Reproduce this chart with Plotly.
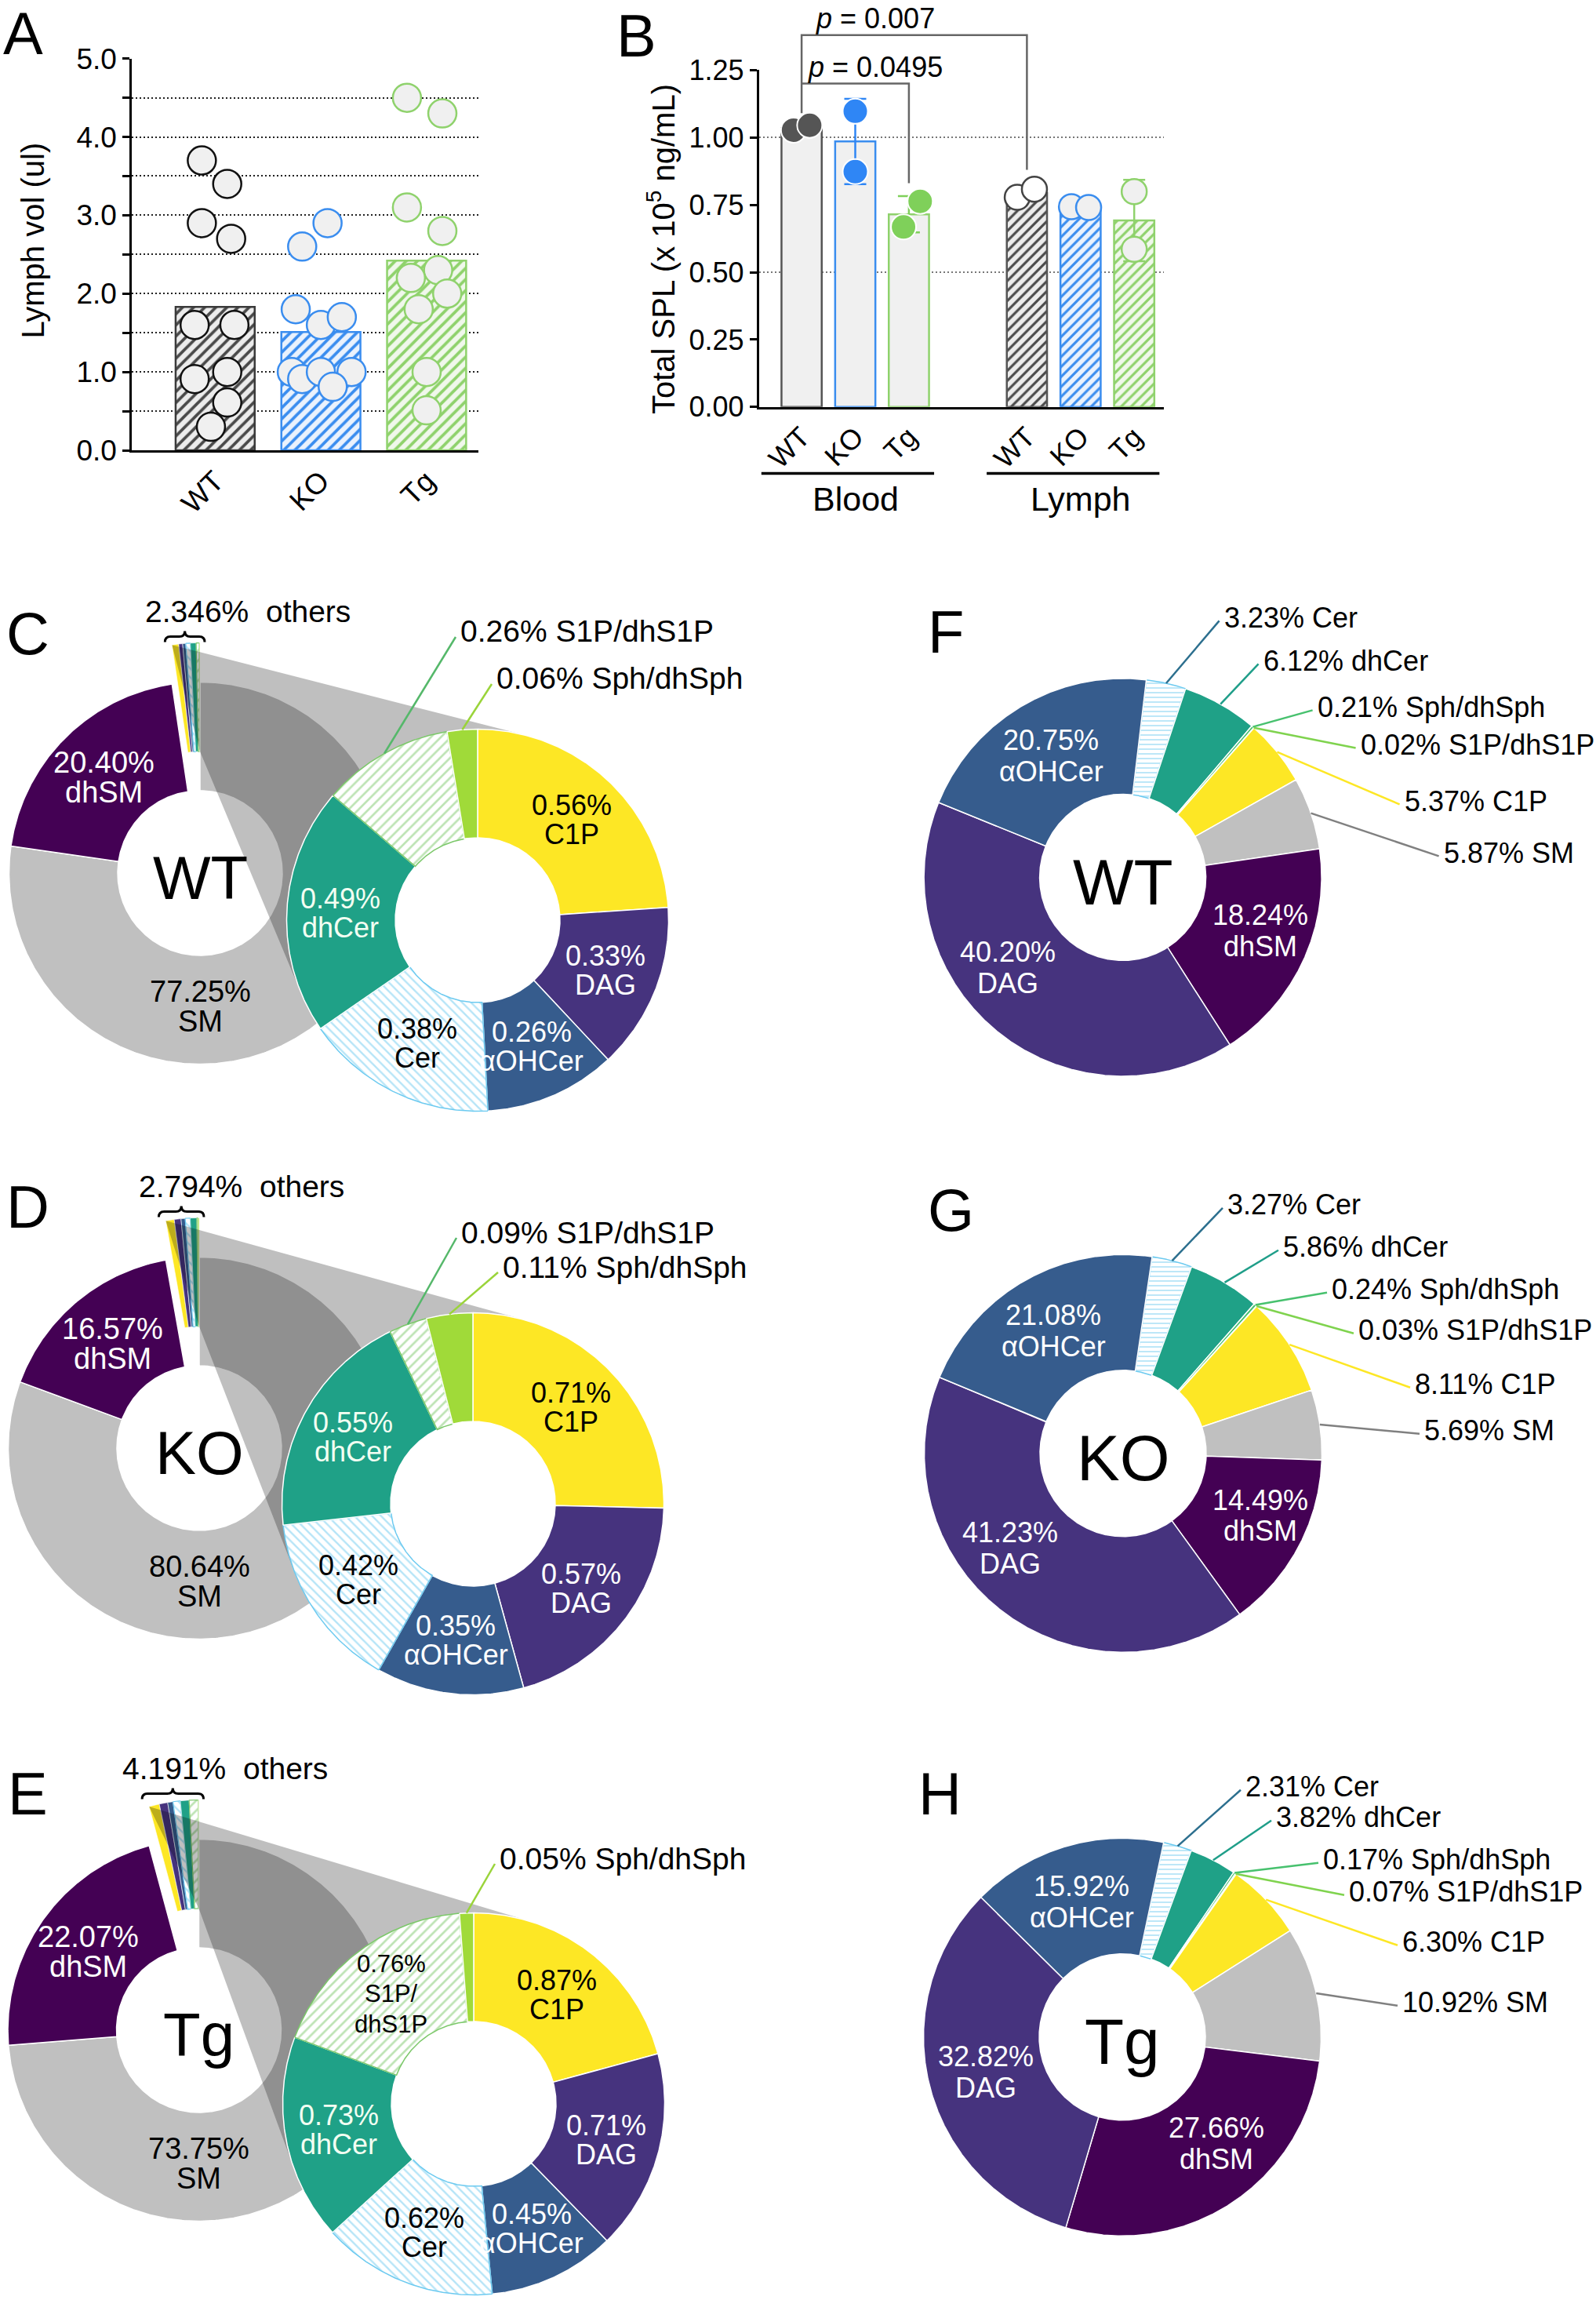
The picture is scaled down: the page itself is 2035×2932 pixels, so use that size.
import numpy as np
import plotly.graph_objects as go

FONT = "Liberation Sans, Arial, Helvetica, sans-serif"
W, H = 2035, 2932

# ======================= DATA =======================
# Panel A : lymph volume (ul)
a_groups = ["WT", "KO", "Tg"]
a_bar_means = [1.83, 1.51, 2.42]
a_wt = [3.70, 3.40, 2.90, 2.70, 1.60, 1.60, 0.91, 1.00, 0.61, 0.30]
a_ko = [2.60, 2.90, 1.80, 1.60, 1.70, 1.00, 0.91, 1.00, 1.00, 0.81]
a_tg = [4.50, 4.30, 3.10, 2.80, 2.30, 2.20, 2.00, 1.80, 1.00, 0.51]
a_tick_vals = [0, 1, 2, 3, 4, 5]
a_tick_text = ["0.0", "1.0", "2.0", "3.0", "4.0", "5.0"]

# Panel B : total SPL (x 10^5 ng/mL)
b_groups = ["WT", "KO", "Tg", "WT", "KO", "Tg"]
b_tissues = ["Blood", "Lymph"]
b_means = [1.035, 0.985, 0.715, 0.793, 0.742, 0.692]
b_sd = [0.013, 0.158, 0.067, 0.021, 0.003, 0.151]
b_rep1 = [1.027, 1.097, 0.763, 0.778, 0.743, 0.799]
b_rep2 = [1.045, 0.873, 0.668, 0.808, 0.740, 0.585]
b_pvalues = ["0.007", "0.0495"]
b_tick_vals = [0, 0.25, 0.5, 0.75, 1.0, 1.25]
b_tick_text = ["0.00", "0.25", "0.50", "0.75", "1.00", "1.25"]

# Panels C-E : blood sphingolipid composition (%)
blood_major_names = ["SM", "dhSM"]
blood_minor_names = ["C1P", "DAG", "αOHCer", "Cer", "dhCer", "S1P/dhS1P", "Sph/dhSph"]
blood_wt_major = [77.25, 20.40]
blood_ko_major = [80.64, 16.57]
blood_tg_major = [73.75, 22.07]
blood_wt_minor = [0.56, 0.33, 0.26, 0.38, 0.49, 0.26, 0.06]
blood_ko_minor = [0.71, 0.57, 0.35, 0.42, 0.55, 0.09, 0.11]
blood_tg_minor = [0.87, 0.71, 0.45, 0.62, 0.73, 0.76, 0.05]
blood_others = ["2.346", "2.794", "4.191"]

# Panels F-H : lymph sphingolipid composition (%)
lymph_names = ["Cer", "dhCer", "Sph/dhSph", "S1P/dhS1P", "C1P", "SM", "dhSM", "DAG", "αOHCer"]
lymph_wt = [3.23, 6.12, 0.21, 0.02, 5.37, 5.87, 18.24, 40.20, 20.75]
lymph_ko = [3.27, 5.86, 0.24, 0.03, 8.11, 5.69, 14.49, 41.23, 21.08]
lymph_tg = [2.31, 3.82, 0.17, 0.07, 6.30, 10.92, 27.66, 32.82, 15.92]
genotypes = ["WT", "KO", "Tg"]

# ======================= STYLE / LAYOUT =======================
GLINE = {"WT": "#3a3a3a", "KO": "#3a8def", "Tg": "#8fd26c"}
GHATCH = {"WT": "#4a4a4a", "KO": "#3a8def", "Tg": "#8fd26c"}
GBG = {"WT": "#ececec", "KO": "#eaf2fd", "Tg": "#f0f8eb"}
GDOT = {"WT": "#555555", "KO": "#2f86f5", "Tg": "#7fd05a"}
A_JIT = {
    "WT": [-0.126, 0.114, -0.126, 0.151, -0.194, 0.182, -0.194, 0.114, 0.114, -0.04],
    "KO": [-0.177, 0.063, -0.238, 0.0, 0.198, -0.275, -0.177, 0.0, 0.29, 0.112],
    "Tg": [-0.186, 0.149, -0.186, 0.149, 0.109, -0.149, 0.195, -0.075, 0.0, 0.0],
}
B_POS = [0, 1, 2, 4.2, 5.2, 6.2]
B_JIT1 = [-0.15, 0.0, 0.21, -0.18, -0.17, 0.0]
B_JIT2 = [0.15, 0.0, -0.10, 0.14, 0.15, 0.0]
BX_RANGE = [-0.797, 6.75]
BY_RANGE = [0, 1.25]
B_XDOM = [967.6 / W, 1483.8 / W]
B_YDOM = [1 - 518.8 / H, 1 - 89.3 / H]

LIGHTBLUE = "#6ccaf0"
BLOOD_STYLE = {
    "SM": dict(color="#c0c0c0"),
    "dhSM": dict(color="#440154"),
    "C1P": dict(color="#fde725"),
    "DAG": dict(color="#46337e"),
    "αOHCer": dict(color="#365c8d"),
    "Cer": dict(color="#ffffff", pattern="\\", fg=LIGHTBLUE, psize=8),
    "dhCer": dict(color="#1fa187"),
    "S1P/dhS1P": dict(color="#ffffff", pattern="/", fg="#7cc86a", psize=9),
    "Sph/dhSph": dict(color="#a0da39"),
}
LYMPH_STYLE = {
    "Cer": dict(color="#ffffff", pattern="-", fg=LIGHTBLUE, psize=6),
    "dhCer": dict(color="#1fa187"),
    "Sph/dhSph": dict(color="#47c16e"),
    "S1P/dhS1P": dict(color="#7fd34e"),
    "C1P": dict(color="#fde725"),
    "SM": dict(color="#c0c0c0"),
    "dhSM": dict(color="#440154"),
    "DAG": dict(color="#46337e"),
    "αOHCer": dict(color="#365c8d"),
}
BLOOD_TXT = {"C1P": "black", "DAG": "white", "αOHCer": "white", "Cer": "black",
             "dhCer": "#f2fff2", "S1P/dhS1P": "black", "Sph/dhSph": "black"}
BLOOD_LEADER = {"S1P/dhS1P": "#55b86a", "Sph/dhSph": "#9ad43a"}
LYMPH_LEADER = {"Cer": "#2c6f8e", "dhCer": "#1f9e89", "Sph/dhSph": "#47c16e",
                "S1P/dhS1P": "#7fd34e", "C1P": "#fde725", "SM": "#808080"}

ROUT, RIN, EXPLODE = 243.5, 105.0, 50.0
BLOOD_LAYOUT = [
    dict(letter="C", left=(255, 1113), right=(609, 1173), letter_xy=(35, 807),
         outside={"S1P/dhS1P": (-28, -361), "Sph/dhSph": (18, -301)}),
    dict(letter="D", left=(254, 1846), right=(603, 1917), letter_xy=(35, 1539),
         outside={"S1P/dhS1P": (-21, -339), "Sph/dhSph": (32, -295)}),
    dict(letter="E", left=(253.5, 2588), right=(604, 2682), letter_xy=(35, 2286),
         outside={"Sph/dhSph": (27, -306)}),
]
RL_OUT, RL_IN = 253.5, 106.0
LYMPH_LAYOUT = [
    dict(letter="F", center=(1431.6, 1118.4), rot=6.8, letter_xy=(1206, 805),
         ends={"Cer": (123, -327), "dhCer": (173, -272), "Sph/dhSph": (242, -213),
               "S1P/dhS1P": (297, -165), "C1P": (353, -93), "SM": (403, -27)},
         inside={"DAG": (231.8, 186), "dhSM": (111.2, 188)}),
    dict(letter="G", center=(1432, 1852.8), rot=8.4, letter_xy=(1212, 1542),
         ends={"Cer": (127, -313), "dhCer": (198, -259), "Sph/dhSph": (260, -205),
               "S1P/dhS1P": (294, -153), "C1P": (366, -84), "SM": (378, -25)},
         inside={"DAG": (230, 187.5), "dhSM": (114.3, 192)}),
    dict(letter="H", center=(1431, 2596.8), rot=12.0, letter_xy=(1198, 2286),
         ends={"Cer": (151, -315), "dhCer": (190, -276), "Sph/dhSph": (250, -222),
               "S1P/dhS1P": (283, -181), "C1P": (351, -117), "SM": (351, -40)},
         inside={"dhSM": (138.5, 181)}),
]

fig = go.Figure()
ANN, SHAPES = [], []


def paper(px, py):
    return px / W, 1 - py / H


def note(px, py, text, size, color="black", angle=0, xanchor="center"):
    x, y = paper(px, py)
    ANN.append(dict(x=x, y=y, xref="paper", yref="paper", text=text, showarrow=False,
                    textangle=angle, xanchor=xanchor, yanchor="middle",
                    font=dict(family=FONT, size=size, color=color)))


def txt(x, y, lines, size, color="black", spacing=1.04, xanchor="center"):
    if isinstance(lines, str):
        lines = [lines]
    n = len(lines)
    for i, s in enumerate(lines):
        yy = y + (i - (n - 1) / 2) * spacing * size
        ANN.append(dict(x=x, y=yy, xref="x3", yref="y3", text=s, showarrow=False,
                        xanchor=xanchor, yanchor="middle",
                        font=dict(family=FONT, size=size, color=color)))


# ======================= PANEL A =======================
for i, g in enumerate(a_groups):
    fig.add_trace(go.Bar(
        x=[i], y=[a_bar_means[i]], width=0.748, xaxis="x", yaxis="y",
        marker=dict(color=GBG[g], line=dict(color=GLINE[g], width=2.5),
                    pattern=dict(shape="/", fgcolor=GHATCH[g], bgcolor=GBG[g],
                                 size=10, solidity=0.38, fillmode="replace")),
        hoverinfo="skip"))
for i, (g, vals) in enumerate(zip(a_groups, [a_wt, a_ko, a_tg])):
    fig.add_trace(go.Scatter(
        x=[i + j for j in A_JIT[g]], y=vals, mode="markers", xaxis="x", yaxis="y",
        marker=dict(size=36, color="#f0f0f0",
                    line=dict(color="#111111" if g == "WT" else GLINE[g], width=2.5)),
        cliponaxis=False, hoverinfo="skip"))

# ======================= PANEL B =======================
for k in range(6):
    g = b_groups[k]
    lymph = k >= 3
    mk = dict(color="#f0f0f0", line=dict(color=GLINE[g] if g != "WT" else "#555555", width=2.5))
    if lymph:
        mk["color"] = GBG[g]
        mk["pattern"] = dict(shape="/", fgcolor=GHATCH[g], bgcolor=GBG[g], size=9,
                             solidity=0.35, fillmode="replace")
    fig.add_trace(go.Bar(
        x=[B_POS[k]], y=[b_means[k]], width=0.75, xaxis="x2", yaxis="y2", marker=mk,
        error_y=dict(type="data", array=[b_sd[k]], color=GDOT[g] if not lymph else GLINE[g],
                     thickness=2.5, width=14, visible=True),
        hoverinfo="skip"))
for k in range(6):
    g = b_groups[k]
    lymph = k >= 3
    if lymph:
        mk = dict(size=32, color="#ffffff" if g == "WT" else "#f0f0f0",
                  line=dict(color="#444444" if g == "WT" else GLINE[g], width=2.5))
    else:
        mk = dict(size=32, color=GDOT[g], line=dict(color="white", width=2))
    fig.add_trace(go.Scatter(
        x=[B_POS[k] + B_JIT1[k], B_POS[k] + B_JIT2[k]], y=[b_rep1[k], b_rep2[k]],
        mode="markers", xaxis="x2", yaxis="y2", marker=mk, cliponaxis=False,
        hoverinfo="skip"))


def bxd(v):
    return (v - BX_RANGE[0]) / (BX_RANGE[1] - BX_RANGE[0])


def byd(v):
    return (v - BY_RANGE[0]) / (BY_RANGE[1] - BY_RANGE[0])


def bpaper(x, y):
    return (B_XDOM[0] + bxd(x) * (B_XDOM[1] - B_XDOM[0]),
            B_YDOM[0] + byd(y) * (B_YDOM[1] - B_YDOM[0]))


# significance brackets (WT blood vs WT lymph ; WT blood vs Tg blood)
BRACKETS = [(B_POS[0], B_POS[3], 1.38, 1.09, 0.88), (B_POS[0], B_POS[2], 1.20, 1.20, 0.83)]
for (xl, xr, top, lb, rb), pv in zip(BRACKETS, b_pvalues):
    SHAPES.append(dict(type="path", xref="x2 domain", yref="y2 domain",
                       path=f"M{bxd(xl)},{byd(lb)} L{bxd(xl)},{byd(top)} L{bxd(xr)},{byd(top)} L{bxd(xr)},{byd(rb)}",
                       line=dict(color="#666666", width=2.5)))
    tx, ty = bpaper(1.37, top + 0.062)
    ANN.append(dict(x=tx, y=ty, xref="paper", yref="paper", text=f"<i>p</i> = {pv}",
                    showarrow=False, xanchor="center", yanchor="middle",
                    font=dict(family=FONT, size=36, color="black")))
# tissue group underlines and labels
for t, (i0, i1) in zip(b_tissues, [(0, 2), (3, 5)]):
    yl = 1 - 603.6 / H
    SHAPES.append(dict(type="line", xref="x2 domain", yref="paper",
                       x0=bxd(B_POS[i0] - 0.75), x1=bxd(B_POS[i1] + 0.47), y0=yl, y1=yl,
                       line=dict(color="black", width=3.5)))
    tx, _ = bpaper((B_POS[i0] + B_POS[i1]) / 2, 0)
    ANN.append(dict(x=tx, y=1 - 636 / H, xref="paper", yref="paper",
                    text=t, showarrow=False, xanchor="center", yanchor="middle",
                    font=dict(family=FONT, size=43, color="black")))

# ======================= PIE HELPERS =======================
def sector(cx, cy, r0, r1, a0, a1, step=0.5):
    n = max(3, int(np.ceil(abs(a1 - a0) / step)) + 1)
    t = np.radians(np.linspace(a0, a1, n))
    xo, yo = cx + r1 * np.sin(t), cy - r1 * np.cos(t)
    xi, yi = cx + r0 * np.sin(t[::-1]), cy - r0 * np.cos(t[::-1])
    return np.concatenate([xo, xi, xo[:1]]), np.concatenate([yo, yi, yo[:1]])


def add_sector(xy, st, lw=1.5):
    x, y = xy
    kw = dict(x=x, y=y, xaxis="x3", yaxis="y3", mode="lines", fill="toself",
              fillcolor=st["color"], line=dict(color="white", width=lw),
              hoverinfo="skip")
    if "pattern" in st:
        kw["fillpattern"] = dict(shape=st["pattern"], fgcolor=st["fg"], bgcolor=st["color"],
                                 size=st.get("psize", 10), solidity=0.3)
        kw["line"] = dict(color=st["fg"], width=max(lw, 1.2))
    fig.add_trace(go.Scatter(**kw))


def line_trace(xs, ys, color, width=2.5):
    fig.add_trace(go.Scatter(x=xs, y=ys, xaxis="x3", yaxis="y3", mode="lines",
                             line=dict(color=color, width=width), hoverinfo="skip"))


def tangent_point(P, C, R, upper):
    dx, dy = C[0] - P[0], C[1] - P[1]
    d = np.hypot(dx, dy)
    phi = np.arctan2(dy, dx)
    al = np.arcsin(R / d)
    th = phi - al if upper else phi + al
    L = np.sqrt(d * d - R * R)
    return P[0] + L * np.cos(th), P[1] + L * np.sin(th)


def split_name(name):
    return [name[:4], name[4:]] if name == "S1P/dhS1P" else [name]


# ======================= PANELS C-E =======================
for cfg, key, major, minor, oth in zip(BLOOD_LAYOUT, genotypes,
                                       [blood_wt_major, blood_ko_major, blood_tg_major],
                                       [blood_wt_minor, blood_ko_minor, blood_tg_minor],
                                       blood_others):
    cxL, cyL = cfg["left"]
    cxR, cyR = cfg["right"]
    total = sum(major) + sum(minor)
    a = 0.0
    mids = {}
    for name, v in zip(blood_major_names, major):
        a1 = a + v / total * 360
        add_sector(sector(cxL, cyL, RIN, ROUT, a, a1), BLOOD_STYLE[name], 1.5)
        mids[name] = (a + a1) / 2
        a = a1
    o0 = a
    cyE = cyL - EXPLODE
    for name, v in zip(blood_minor_names, minor):
        a1 = a + v / total * 360
        add_sector(sector(cxL, cyE, RIN, ROUT, a, a1, 0.2), BLOOD_STYLE[name], 0.6)
        a = a1
    # projection band from the exploded slice to the secondary donut
    P1 = (cxL + ROUT * np.sin(np.radians(o0)), cyE - ROUT * np.cos(np.radians(o0)))
    P2 = (cxL, cyE - RIN)
    T1 = tangent_point(P1, (cxR, cyR), ROUT, True)
    T2 = tangent_point(P2, (cxR, cyR), ROUT, False)
    p1 = np.arctan2(T1[1] - cyR, T1[0] - cxR)
    p2 = np.arctan2(T2[1] - cyR, T2[0] - cxR)
    if p2 > p1:
        p2 -= 2 * np.pi
    arc = np.linspace(p1, p2, 240)
    px = [P1[0]] + list(cxR + ROUT * np.cos(arc)) + [P2[0], P1[0]]
    py = [P1[1]] + list(cyR + ROUT * np.sin(arc)) + [P2[1], P1[1]]
    fig.add_trace(go.Scatter(x=px, y=py, xaxis="x3", yaxis="y3", mode="lines", fill="toself",
                             fillcolor="rgba(0,0,0,0.25)", line=dict(width=0),
                             hoverinfo="skip"))
    # secondary donut
    tm = sum(minor)
    a = 0.0
    leaders = []
    for name, v in zip(blood_minor_names, minor):
        a1 = a + v / tm * 360
        add_sector(sector(cxR, cyR, RIN, ROUT, a, a1), BLOOD_STYLE[name], 1.5)
        mid = np.radians((a + a1) / 2)
        if name in cfg["outside"]:
            ex, ey = cfg["outside"][name]
            leaders.append(([cxR + ROUT * np.sin(mid), cxR + ex],
                            [cyR - ROUT * np.cos(mid), cyR + ey], BLOOD_LEADER[name]))
            txt(cxR + ex + 4, cyR + ey - 7, f"{v:.2f}% {name}", 39, xanchor="left")
        else:
            rl = 0.72 * ROUT
            lines = [f"{v:.2f}%"] + split_name(name)
            size = 31 if len(lines) == 3 else 36
            txt(cxR + rl * np.sin(mid), cyR - rl * np.cos(mid), lines, size,
                BLOOD_TXT[name], spacing=1.25 if len(lines) == 3 else 1.03)
        a = a1
    for xs, ys, c in leaders:
        line_trace(xs, ys, c, 2.5)
    # main donut labels
    rl = 0.71 * ROUT
    m = np.radians(mids["dhSM"])
    txt(cxL + rl * np.sin(m), cyL - rl * np.cos(m), [f"{major[1]:.2f}%", "dhSM"], 38, "white", 1.0)
    txt(cxL, cyL + 0.70 * ROUT, [f"{major[0]:.2f}%", "SM"], 38, "black", 1.0)
    txt(cxL, cyL + 6, key, 78)
    # others label + brace
    top = cyE - ROUT
    txt(P1[0] - 36, top - 40, f"{oth}%\u00a0\u00a0others", 39, xanchor="left")
    x0, x1 = P1[0] - 9, cxL + 6
    yb, yt = top - 1, top - 15
    hh = (yb - yt) / 2
    ym = (yb + yt) / 2
    xc = (x0 + x1) / 2
    SHAPES.append(dict(type="path", xref="x3", yref="y3",
                       path=(f"M{x0},{yb} Q{x0},{ym} {x0 + hh},{ym} L{xc - hh},{ym} "
                             f"Q{xc},{ym} {xc},{yt} Q{xc},{ym} {xc + hh},{ym} "
                             f"L{x1 - hh},{ym} Q{x1},{ym} {x1},{yb}"),
                       line=dict(color="black", width=3)))
    note(*cfg["letter_xy"], cfg["letter"], 76)

# ======================= PANELS F-H =======================
for cfg, key, vals in zip(LYMPH_LAYOUT, genotypes, [lymph_wt, lymph_ko, lymph_tg]):
    cx, cy = cfg["center"]
    tot = sum(vals)
    a = cfg["rot"]
    leaders = []
    for name, v in zip(lymph_names, vals):
        a1 = a + v / tot * 360
        add_sector(sector(cx, cy, RL_IN, RL_OUT, a, a1, 0.3), LYMPH_STYLE[name], 1.5)
        mid = (a + a1) / 2
        if name in cfg["ends"]:
            ex, ey = cfg["ends"][name]
            mr = np.radians(mid)
            leaders.append(([cx + RL_OUT * np.sin(mr), cx + ex],
                            [cy - RL_OUT * np.cos(mr), cy + ey], LYMPH_LEADER[name]))
            txt(cx + ex + 4, cy + ey - 4, f"{v:.2f}% {name}", 36, xanchor="left")
        else:
            ang, rr = cfg["inside"].get(name, (mid, 0.71 * RL_OUT))
            ar = np.radians(ang)
            txt(cx + rr * np.sin(ar), cy - rr * np.cos(ar), [f"{v:.2f}%", name], 36,
                "white", 1.1)
        a = a1
    for xs, ys, c in leaders:
        line_trace(xs, ys, c, 2.5)
    txt(cx, cy + 6, key, 82)
    note(*cfg["letter_xy"], cfg["letter"], 76)

# ======================= TITLES / LETTERS (A, B) =======================
note(29, 42, "A", 76)
note(811, 45, "B", 76)
note(41.5, 307, "Lymph vol (ul)", 40, angle=-90)
note(843, 318, "Total SPL (x 10<sup>5</sup> ng/mL)", 40, angle=-90)

GRID = dict(showgrid=True, gridcolor="#222222", gridwidth=2, griddash="2px,3px")
fig.update_layout(
    width=W, height=H, autosize=False,
    margin=dict(l=0, r=0, t=0, b=0, pad=0, autoexpand=False),
    paper_bgcolor="white", plot_bgcolor="rgba(0,0,0,0)",
    showlegend=False, barmode="overlay",
    font=dict(family=FONT, color="black"),
    xaxis=dict(domain=[168 / W, 610 / W], range=[-0.789, 2.49], anchor="y", automargin=False,
               tickvals=[0, 1, 2], ticktext=a_groups, tickangle=-45,
               tickfont=dict(size=37, family=FONT), ticks="", showline=True,
               linecolor="black", linewidth=2.5, showgrid=False, zeroline=False,
               fixedrange=True),
    yaxis=dict(domain=[1 - 574 / H, 1 - 74.7 / H], range=[0, 5], anchor="x", automargin=False,
               tickvals=a_tick_vals, ticktext=a_tick_text, ticks="outside", ticklen=9,
               tickwidth=2.5, tickcolor="black", tickfont=dict(size=37, family=FONT),
               showline=True, linecolor="black", linewidth=2.5, zeroline=False,
               fixedrange=True, **GRID,
               minor=dict(tickvals=[0.5, 1.5, 2.5, 3.5, 4.5], ticks="outside", ticklen=9,
                          tickwidth=2.5, tickcolor="black", **GRID)),
    xaxis2=dict(domain=B_XDOM, range=BX_RANGE, anchor="y2", automargin=False,
                tickvals=B_POS, ticktext=b_groups, tickangle=-45,
                tickfont=dict(size=36, family=FONT), ticks="", showline=True,
                linecolor="black", linewidth=2.5, showgrid=False, zeroline=False,
                fixedrange=True),
    yaxis2=dict(domain=B_YDOM, range=BY_RANGE, anchor="x2", automargin=False,
                tickvals=b_tick_vals, ticktext=b_tick_text, ticks="outside", ticklen=9,
                tickwidth=2.5, tickcolor="black", tickfont=dict(size=36, family=FONT),
                showline=True, linecolor="black", linewidth=2.5, showgrid=False,
                zeroline=False, fixedrange=True,
                minor=dict(tickvals=[0.5, 1.0], ticks="", showgrid=True,
                           gridcolor="#777777", gridwidth=2, griddash="2px,3px")),
    xaxis3=dict(domain=[0, 1], range=[0, W], visible=False, fixedrange=True, anchor="y3",
                automargin=False),
    yaxis3=dict(domain=[0, 1 - 700 / H], range=[H, 700], visible=False, fixedrange=True,
                anchor="x3", automargin=False),
    annotations=ANN,
    shapes=SHAPES,
)

fig.write_html("out.html", include_plotlyjs=True, full_html=True,
               config={"displayModeBar": False, "responsive": False},
               post_script="document.body.style.margin='0px';")
